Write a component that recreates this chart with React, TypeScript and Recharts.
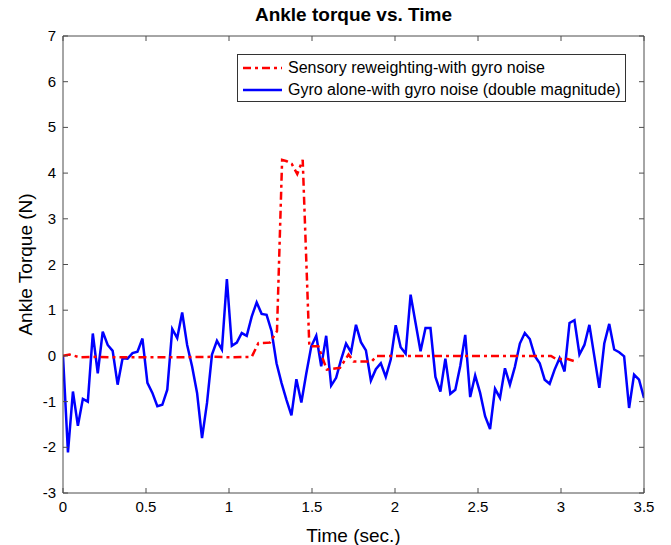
import { Label, Legend, Line, LineChart, XAxis, YAxis } from "recharts"

// blue: sampled every ~0.03 s over 0..3.5 s
const gyroValues = [
  0.0, -2.11, -0.78, -1.53, -0.94, -1.0, 0.49, -0.38, 0.53, 0.24,
  0.11, -0.63, -0.05, -0.06, 0.06, 0.09, 0.38, -0.59, -0.81, -1.1,
  -1.07, -0.74, 0.59, 0.39, 0.95, 0.24, -0.23, -0.81, -1.8, -1.03,
  0.03, 0.33, 0.14, 1.68, 0.22, 0.29, 0.5, 0.44, 0.86, 1.17,
  0.92, 0.9, 0.54, -0.16, -0.59, -0.96, -1.3, -0.51, -1.02, -0.38,
  0.21, 0.44, -0.23, 0.44, -0.65, -0.48, -0.08, 0.27, 0.08, 0.68,
  0.3, 0.12, -0.54, -0.29, -0.16, -0.46, -0.08, 0.67, 0.19, 0.05,
  1.34, 0.72, 0.1, 0.61, 0.61, -0.46, -0.78, -0.06, -0.83, -0.74,
  -0.22, 0.46, -0.9, -0.43, -0.81, -1.32, -1.6, -0.72, -0.92, -0.27,
  -0.63, -0.24, 0.27, 0.5, 0.37, 0.0, -0.16, -0.52, -0.61, -0.3,
  -0.05, -0.34, 0.72, 0.78, 0.03, 0.24, 0.68, -0.01, -0.7, 0.27,
  0.7, 0.14, 0.08, -0.01, -1.14, -0.41, -0.52, -0.92,
]
const T_END = 3.5

const sensoryTimes = [
  0, 0.04, 0.1, 0.2, 0.3, 0.5, 0.7, 0.9, 1.0, 1.137, 1.177, 1.247, 1.289,
  1.32, 1.348, 1.378, 1.411, 1.444, 1.484, 1.538, 1.589, 1.669, 1.72, 1.75,
  1.86, 1.89, 2.94, 2.97, 3.04, 3.1,
]
const sensoryValues = [
  0.0, 0.03, -0.03, -0.02, -0.03, -0.03, -0.03, -0.02, -0.03, -0.02, 0.28, 0.29, 0.54,
  4.29, 4.26, 4.2, 3.98, 4.29, 0.21, 0.21, -0.3, -0.26, 0.03, -0.12,
  -0.12, 0.0, 0.0, -0.07, -0.07, -0.14,
]

const xTicks = [0, 0.5, 1, 1.5, 2, 2.5, 3, 3.5]
const yTicks = [-3, -2, -1, 0, 1, 2, 3, 4, 5, 6, 7]

const gyroData = gyroValues.map((v, i) => ({ t: (i * T_END) / (gyroValues.length - 1), v }))
const sensoryData = sensoryTimes.map((t, i) => ({ t, v: sensoryValues[i] }))

const FONT = "'Liberation Sans', Arial, Helvetica, sans-serif"
const AXIS = "#4d4d4d"
const TICK = 5

const BottomTick = ({ x, y, payload }: any) => (
  <g>
    <line x1={x} x2={x} y1={y} y2={y - TICK} stroke={AXIS} />
    <text x={x} y={y + 19} textAnchor="middle" fontSize={15} fill="#000" fontFamily={FONT}>
      {payload.value}
    </text>
  </g>
)
const TopTick = ({ x, y }: any) => <line x1={x} x2={x} y1={y} y2={y + TICK} stroke={AXIS} />
const LeftTick = ({ x, y, payload }: any) => (
  <g>
    <line x1={x} x2={x + TICK} y1={y} y2={y} stroke={AXIS} />
    <text x={x - 7} y={y + 5} textAnchor="end" fontSize={15} fill="#000" fontFamily={FONT}>
      {payload.value}
    </text>
  </g>
)
const RightTick = ({ x, y }: any) => <line x1={x} x2={x - TICK} y1={y} y2={y} stroke={AXIS} />

const legendItems = [
  { label: "Sensory reweighting-with gyro noise", color: "#ff0000", dash: "8 4 3 4" },
  { label: "Gyro alone-with gyro noise (double magnitude)", color: "#0000ff", dash: undefined },
]

const renderLegend = () => (
  <div
    style={{
      boxSizing: "border-box",
      border: "1px solid #333",
      background: "#fff",
      padding: "2px 0 0 5px",
      fontFamily: FONT,
      fontSize: 16,
      lineHeight: "22px",
      width: 389,
      height: 48,
    }}
  >
    {legendItems.map((it) => (
      <div key={it.label} style={{ display: "flex", alignItems: "center", whiteSpace: "nowrap" }}>
        <svg width={39} height={10} style={{ marginRight: 6 }}>
          <line x1={0} x2={39} y1={5} y2={5} stroke={it.color} strokeWidth={2.5} strokeDasharray={it.dash} />
        </svg>
        <span>{it.label}</span>
      </div>
    ))}
  </div>
)

export default function App() {
  return (
    <div style={{ position: "absolute", left: 0, top: 0, background: "#fff" }}>
      <LineChart width={671} height={545} margin={{ top: 0, right: 0, bottom: 0, left: 0 }}>
        <XAxis
          xAxisId="b"
          dataKey="t"
          type="number"
          domain={[0, 3.5]}
          ticks={xTicks}
          interval={0}
          height={52}
          tickSize={0}
          tickMargin={0}
          tickLine={false}
          tick={<BottomTick />}
          axisLine={{ stroke: AXIS }}
          allowDataOverflow
        >
          <Label value="Time (sec.)" position="center" dy={16} fontSize={19} fill="#000" fontFamily={FONT} />
        </XAxis>
        <XAxis
          xAxisId="t"
          orientation="top"
          dataKey="t"
          type="number"
          domain={[0, 3.5]}
          ticks={xTicks}
          interval={0}
          height={36}
          tickSize={0}
          tickMargin={0}
          tickLine={false}
          tick={<TopTick />}
          axisLine={{ stroke: AXIS }}
          allowDataOverflow
        >
          <Label
            value="Ankle torque vs. Time"
            position="center"
            dy={-4}
            fontSize={19}
            fontWeight="bold"
            fill="#000"
            fontFamily={FONT}
          />
        </XAxis>
        <YAxis
          yAxisId="l"
          type="number"
          domain={[-3, 7]}
          ticks={yTicks}
          interval={0}
          width={63}
          tickSize={0}
          tickMargin={0}
          tickLine={false}
          tick={<LeftTick />}
          axisLine={{ stroke: AXIS }}
          allowDataOverflow
        >
          <Label
            value="Ankle Torque (N)"
            position="center"
            angle={-90}
            dx={-6}
            fontSize={19}
            fill="#000"
            fontFamily={FONT}
          />
        </YAxis>
        <YAxis
          yAxisId="r"
          orientation="right"
          type="number"
          domain={[-3, 7]}
          ticks={yTicks}
          interval={0}
          width={27}
          tickSize={0}
          tickMargin={0}
          tickLine={false}
          tick={<RightTick />}
          axisLine={{ stroke: AXIS }}
          allowDataOverflow
        />
        <Legend
          content={renderLegend}
          layout="vertical"
          align="center"
          verticalAlign="middle"
          wrapperStyle={{ position: "absolute", left: 237, top: 54, width: "auto", height: "auto" }}
        />
        <Line
          xAxisId="b"
          yAxisId="l"
          data={gyroData}
          dataKey="v"
          type="linear"
          stroke="#0000ff"
          strokeWidth={2.5}
          dot={false}
          isAnimationActive={false}
        />
        <Line
          xAxisId="b"
          yAxisId="l"
          data={sensoryData}
          dataKey="v"
          type="linear"
          stroke="#ff0000"
          strokeWidth={2.5}
          strokeDasharray="8 4 3 4"
          dot={false}
          isAnimationActive={false}
        />
      </LineChart>
    </div>
  )
}
